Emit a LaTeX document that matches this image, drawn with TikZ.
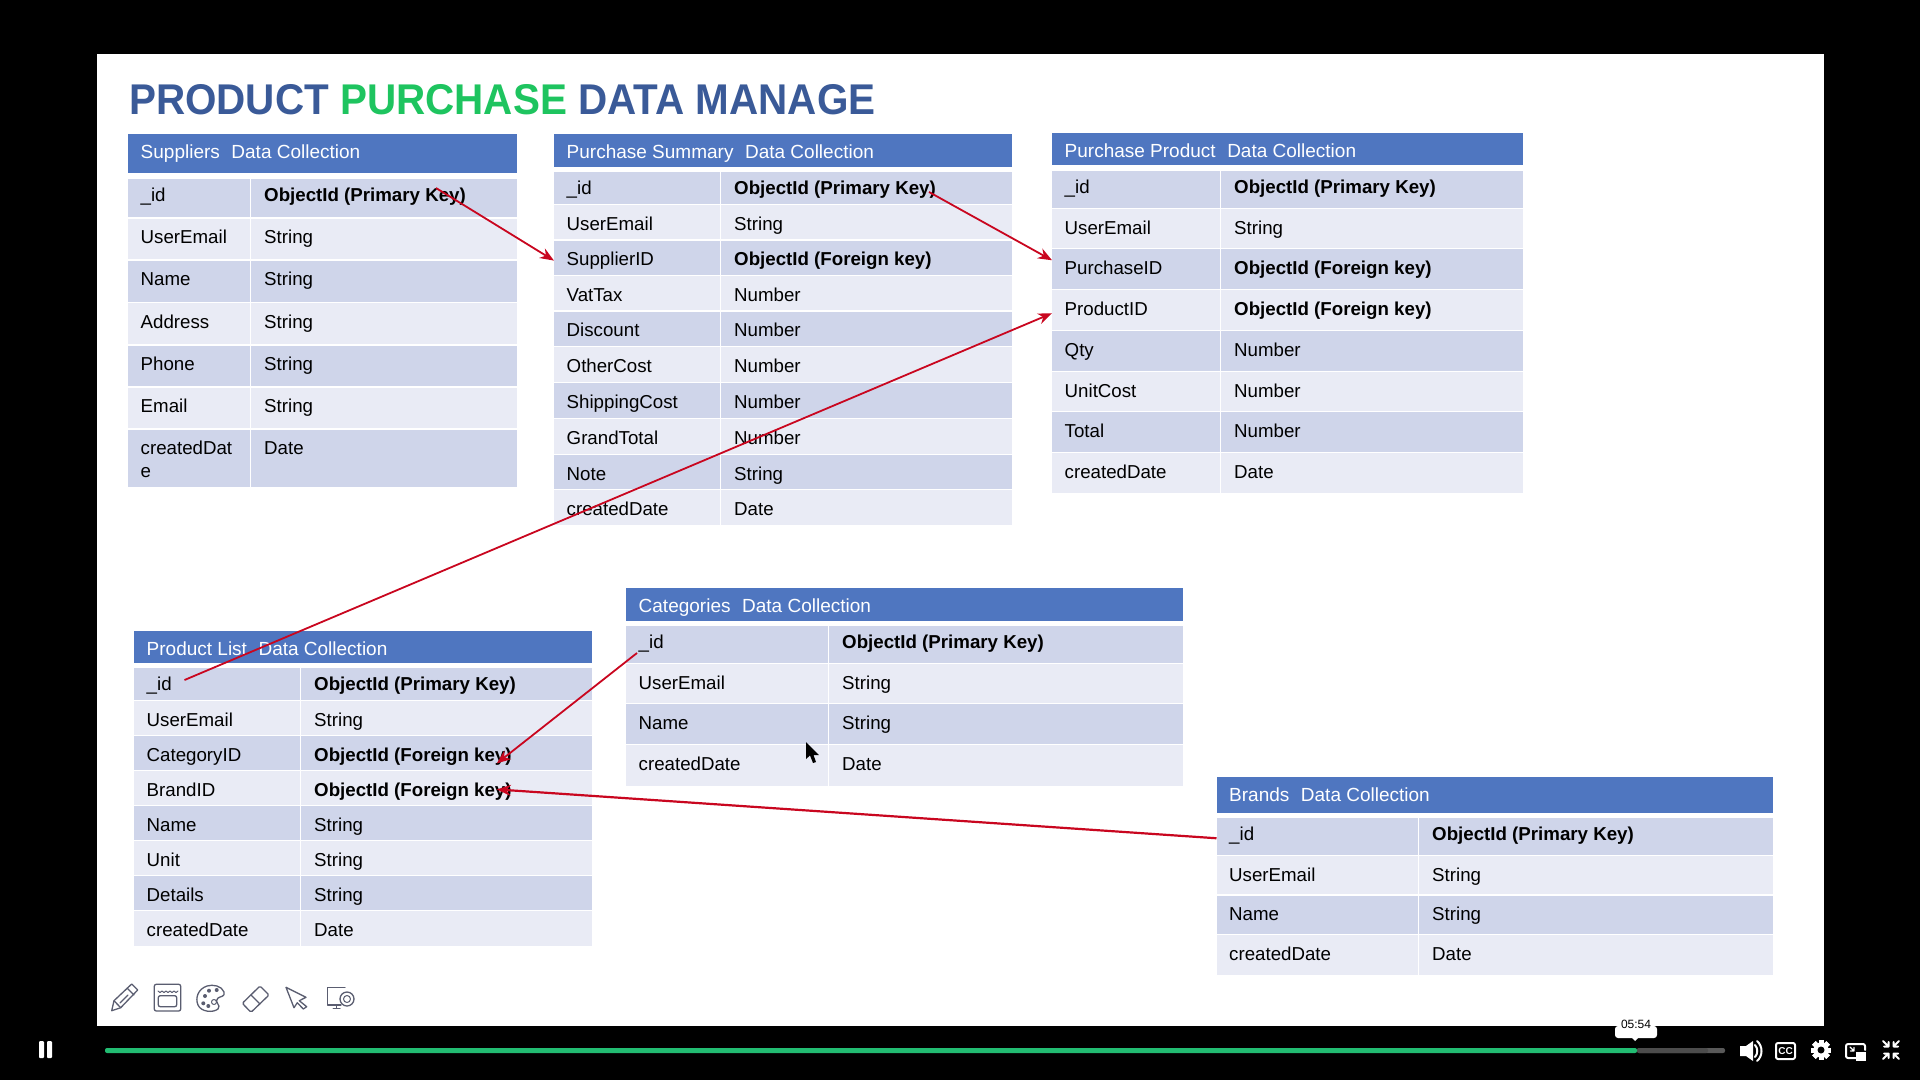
\documentclass[tikz,border=0pt]{standalone}
\usepackage{fontspec}
\setmainfont{Liberation Sans}
\usetikzlibrary{arrows.meta}
\definecolor{headblue}{HTML}{4F76C0}
\definecolor{rowdarkc}{HTML}{CFD5EA}
\definecolor{rowlightc}{HTML}{E9EBF5}
\definecolor{titleblue}{HTML}{3A5A98}
\definecolor{titlegreen}{HTML}{1EC45F}
\definecolor{linkred}{HTML}{C9061F}
\definecolor{barred}{HTML}{22BC72}
\definecolor{toolgray}{HTML}{5A5D70}
\tikzset{
  headbar/.style={fill=headblue, inner sep=0pt, outer sep=0pt, anchor=north west},
  rowdark/.style={fill=rowdarkc, inner sep=0pt, outer sep=0pt, anchor=north west},
  rowlight/.style={fill=rowlightc, inner sep=0pt, outer sep=0pt, anchor=north west},
  celltext/.style={font=\fontsize{18.7}{22}\selectfont, inner sep=0pt, anchor=base west},
  headtext/.style={celltext, font=\fontsize{19}{22}\selectfont, text=white},
  link/.style={draw=linkred, line width=1.8pt, -{Stealth[length=14pt,width=11pt]}},
  toolicon/.style={draw=toolgray, line width=1.3pt, line join=round, line cap=round},
  playericon/.style={draw=white, line width=2pt, line join=round, line cap=round},
}
% name, x left, x divider, x right, header top, header bottom, title, rows
\newcommand{\collectiontable}[8]{
  \pgfmathsetmacro{\headw}{#4-#2}
  \pgfmathsetmacro{\headh}{#6-#5}
  \pgfmathsetmacro{\leftw}{#3-#2-1.5}
  \pgfmathsetmacro{\rightw}{#4-#3}
  \node[headbar, minimum width=\headw pt, minimum height=\headh pt] (#1Head) at (#2,#5) {};
  \node[headtext] (#1Title) at (#2+12.5,#5+24.5) {#7};
  \foreach \rname/\rtop/\rbot/\ltext/\rtext [count=\ri] in {#8}{
    \pgfmathsetmacro{\rowh}{\rbot-\rtop-1.5}
    \pgfmathsetmacro{\rbase}{\rtop+(\ri==1?22.3:25.2)}
    \edef\rstyle{\ifodd\ri rowdark\else rowlight\fi}
    \node[\rstyle, minimum width=\leftw pt, minimum height=\rowh pt] (\rname) at (#2,\rtop) {};
    \node[\rstyle, minimum width=\rightw pt, minimum height=\rowh pt] (\rname Type) at (#3,\rtop) {};
    \node[celltext] (\rname L) at (#2+12.5,\rbase) {\ltext};
    \node[celltext] (\rname R) at (#3+13,\rbase) {\rtext};
  }
}
\newcommand{\pk}{\textbf{ObjectId (Primary Key)}}
\newcommand{\fk}{\textbf{ObjectId (Foreign key)}}

\begin{document}
\begin{tikzpicture}[x=1pt,y=-1pt]
\useasboundingbox (0,0) rectangle (1920,1080);
\fill[black] (0,0) rectangle (1920,1080);
\fill[white] (97,54) rectangle (1824,1026);

% title
\node[inner sep=0pt, anchor=base west, font=\fontsize{43}{46}\selectfont\bfseries, text=titleblue] (pageTitle) at (129,114.5)
  {\scalebox{.94}[1]{PRODUCT \textcolor{titlegreen}{PURCHASE} DATA MANAGE}};

% tables
\collectiontable{sup}{128}{251}{517}{134}{173}{Suppliers~~\kern1pt Data Collection}{
  supId/179/218.5/\_id/\pk,
  supEmail/218.5/260.7/UserEmail/String,
  supName/260.7/303/Name/String,
  supAddress/303/345.5/Address/String,
  supPhone/345.5/387.5/Phone/String,
  supMail/387.5/429.5/Email/String,
  supDate/429.5/488.5/createdDat/Date}
\node[celltext] (supDateWrap) at (140.5,477.5) {e};

\collectiontable{ps}{554}{721}{1012}{134}{167}{Purchase Summary~~\kern1pt Data Collection}{
  psId/172/205/\_id/\pk,
  psEmail/205/240.7/UserEmail/String,
  psSupplier/240.7/276/SupplierID/\fk,
  psVat/276/311.7/VatTax/Number,
  psDiscount/311.7/347/Discount/Number,
  psOther/347/383/OtherCost/Number,
  psShipping/383/419/ShippingCost/Number,
  psGrand/419/455/GrandTotal/Number,
  psNote/455/490/Note/String,
  psDate/490/526.5/createdDate/Date}

\collectiontable{pp}{1052}{1221}{1523}{133}{165}{Purchase Product~~\kern1pt Data Collection}{
  ppId/171/209/\_id/\pk,
  ppEmail/209/249/UserEmail/String,
  ppPurchase/249/290/PurchaseID/\fk,
  ppProduct/290/331/ProductID/\fk,
  ppQty/331/372/Qty/Number,
  ppUnit/372/412/UnitCost/Number,
  ppTotal/412/453/Total/Number,
  ppDate/453/494.5/createdDate/Date}

\collectiontable{pl}{134}{301}{592}{631}{663}{Product List~~\kern1pt Data Collection}{
  plId/668/701/\_id/\pk,
  plEmail/701/736/UserEmail/String,
  plCategory/736/771/CategoryID/\fk,
  plBrand/771/806/BrandID/\fk,
  plName/806/841/Name/String,
  plUnit/841/876/Unit/String,
  plDetails/876/911/Details/String,
  plDate/911/947.5/createdDate/Date}

\collectiontable{cat}{626}{829}{1183}{588}{621}{Categories~~\kern1pt Data Collection}{
  catId/626/664/\_id/\pk,
  catEmail/664/704/UserEmail/String,
  catName/704/745/Name/String,
  catDate/745/787.5/createdDate/Date}

\collectiontable{br}{1216.5}{1419}{1773}{776.5}{813}{Brands~~\kern1pt Data Collection}{
  brId/818/856/\_id/\pk,
  brEmail/856/895.5/UserEmail/String,
  brName/895.5/935/Name/String,
  brDate/935/976.5/createdDate/Date}

% links
\coordinate (supKey) at (436,188);
\coordinate (psKey) at (929,192);
\coordinate (plKey) at (184.5,680);
\coordinate (catKey) at (637,653);
\draw[link] (supKey) -- ([yshift=-3pt]psSupplier.west);
\draw[link] (psKey) -- ([yshift=8.5pt]ppPurchase.west);
\draw[link] (plKey) -- ([yshift=-3.5pt]ppProduct.west);
\draw[link] (catKey) -- ([xshift=-15pt,yshift=-7pt]plCategoryR.east);
\draw[link, line width=2.2pt] ([yshift=-2pt]brId.west) -- ([xshift=-15pt,yshift=2pt]plBrandR.east);

% mouse pointer
\fill[black] (806,742) -- (806,759) -- (810,755.5) -- (813,763) -- (816,762) -- (813.5,755) -- (819,755) -- cycle;

% drawing tools
\draw[toolicon] (111.7,1010.7) -- (114,1000.7) -- (131.7,984) -- (137.7,990) -- (120.7,1007.7) -- cycle;
\draw[toolicon] (120,1003) -- (128,995) (127,988) -- (134,995) (114,1000.7) -- (120.7,1007.7);
\draw[toolicon, rounded corners=2pt] (154.3,984.3) rectangle (180.7,1011);
\draw[toolicon, rounded corners=2pt] (158.3,995.7) rectangle (176.7,1006.7);
\draw[toolicon, line width=1pt] (158,991) \foreach \wx in {160,164,...,176}{ -- (\wx,992.5) -- (\wx+2,991)};
\draw[toolicon] (224,992) .. controls (222,986) and (213,984) .. (207,986)
  .. controls (198,989) and (195,998) .. (198,1005)
  .. controls (201,1012) and (213,1013) .. (218,1009)
  .. controls (222,1005) and (213,1002) .. (218,998)
  .. controls (221,996) and (225,997) .. (224,992) -- cycle;
\foreach \dx/\dy in {205/996,209/990.7,216.7/990,203.3/1003.3,208.3/1006}
  \fill[toolgray] (\dx,\dy) circle (2pt);
\draw[toolicon, line width=1pt] (214,1002) circle (2.5pt);
\draw[toolicon, rounded corners=1.5pt] (260,986) -- (269,995) -- (251,1012.3) -- (242.3,1003.3) -- cycle;
\draw[toolicon] (251,995) -- (260,1004);
\draw[toolicon] (286,987.3) -- (306,997.3) -- (299.3,1000.7) -- (306.7,1006.7) -- (303.3,1009) -- (297.3,1002.7) -- (294,1007.7) -- cycle;
\draw[toolicon] (345,987.3) -- (327.3,987.3) -- (327.3,1005) -- (341,1005) (333.3,1008.3) -- (340,1008.3) (336.7,1005) -- (336.7,1008.3);
\draw[toolicon] (347,999) circle (7pt);
\draw[toolicon, line width=1pt] (347,999) circle (3.5pt);

% player bar
\fill[black!65!white, rounded corners=2pt] (1637,1048) rectangle (1725,1053);
\fill[black!70!white, rounded corners=2pt] (1637,1048) rectangle (1708,1053);
\fill[barred, rounded corners=2pt] (105,1048) rectangle (1637,1053);
\fill[white, rounded corners=3pt] (1615,1026) rectangle (1657,1038);
\fill[white] (1632,1038) -- (1635,1041) -- (1638,1038) -- cycle;
\node[inner sep=0pt, font=\fontsize{12}{14}\selectfont, text=black] (timeLabel) at (1636,1024.5) {05:54};

% player buttons
\fill[white, rounded corners=1pt] (39,1041) rectangle (44,1058) (47,1041) rectangle (52,1058);
\fill[white] (1740,1046) -- (1746,1046) -- (1753,1041) -- (1753,1061) -- (1746,1056) -- (1740,1056) -- cycle;
\draw[playericon] (1755,1045) .. controls (1758,1048) and (1758,1054) .. (1755,1057);
\draw[playericon] (1757,1041) .. controls (1763,1046) and (1763,1056) .. (1757,1061);
\draw[playericon, rounded corners=2pt] (1776,1043) rectangle (1795,1059);
\node[inner sep=0pt, font=\fontsize{10}{12}\selectfont\bfseries, text=white] (ccLabel) at (1785.5,1051) {CC};
\foreach \ang in {0,45,...,315}
  \fill[white, rotate around={\ang:(1821,1050)}] (1818.5,1040) rectangle (1823.5,1060);
\fill[white] (1821,1050) circle (7.5pt);
\fill[black] (1821,1050) circle (3.5pt);
\draw[playericon, rounded corners=2pt] (1856,1058) -- (1846,1058) -- (1846,1044) -- (1865,1044) -- (1865,1050);
\fill[white] (1856,1052) rectangle (1866,1061);
\draw[playericon, line width=1.3pt] (1850,1047) -- (1854,1051) (1854,1047.5) -- (1854,1051) -- (1850.5,1051);
\foreach \sx/\sy in {-1/-1,1/-1,-1/1,1/1}
  \draw[playericon] (1891+8*\sx,1050+9*\sy) -- (1891+2.5*\sx,1050+3.5*\sy)
    (1891+7*\sx,1050+3.5*\sy) -- (1891+2.5*\sx,1050+3.5*\sy) -- (1891+2.5*\sx,1050+8*\sy);
\end{tikzpicture}
\end{document}
